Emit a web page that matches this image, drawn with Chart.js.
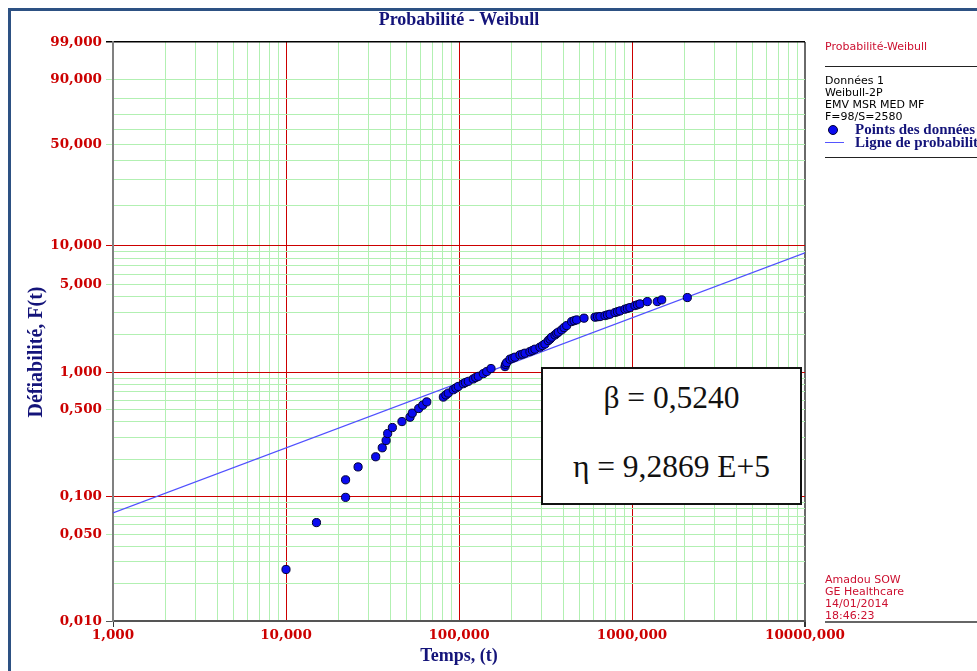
<!DOCTYPE html>
<html lang="fr">
<head>
<meta charset="utf-8">
<title>Probabilité - Weibull</title>
<script src="https://cdn.jsdelivr.net/npm/chart.js@4.4.1/dist/chart.umd.min.js"></script>
<style>
  html, body { margin: 0; padding: 0; background: #fff; overflow: hidden; }
  #page { position: relative; width: 977px; height: 671px; overflow: hidden; }
  #chart { position: absolute; left: 0; top: 0; }
  #frame { position: absolute; left: 8px; top: 8px; width: 1200px; height: 900px; border: 3px solid #2d5183; pointer-events: none; }
  .side { position: absolute; left: 825px; font: 11px 'DejaVu Sans', sans-serif; line-height: 12px; white-space: nowrap; }
  .red { color: #cc1030; }
  .rule { position: absolute; left: 825px; width: 152px; height: 1px; background: #222; }
  .leg { position: absolute; left: 825px; height: 12px; white-space: nowrap; font: bold 15px 'Liberation Serif', serif; color: #14147a; line-height: 12px; }
  .leg span.txt { position: absolute; left: 30px; top: 0; }
  .dot { position: absolute; left: 3px; top: 2px; width: 8px; height: 8px; border-radius: 50%; background: #0a0af0; border: 1px solid #000033; }
  .lg-line { position: absolute; left: 0; top: 6px; width: 19px; height: 1px; background: #5555ff; }
  #box { position: absolute; left: 541px; top: 367px; width: 261px; height: 138px; box-sizing: border-box; border: 2px solid #111; background: #fff; font: 31.5px 'Liberation Serif', serif; color: #111; }
  #box div { position: absolute; left: 0; width: 100%; text-align: center; line-height: 34px; }
</style>
</head>
<body>
<div id="page">
  <canvas id="chart" width="977" height="671"></canvas>

  <div class="side red" style="top:41px">Probabilité-Weibull</div>
  <div class="rule" style="top:66px"></div>
  <div class="side" style="top:75px">Données 1<br>Weibull-2P<br>EMV MSR MED MF<br>F=98/S=2580</div>
  <div class="leg" style="top:123px"><span class="dot"></span><span class="txt">Points des données</span></div>
  <div class="leg" style="top:136px"><span class="lg-line"></span><span class="txt">Ligne de probabilité</span></div>
  <div class="rule" style="top:157px"></div>

  <div class="side red" style="top:574px">Amadou SOW<br>GE Healthcare<br>14/01/2014<br>18:46:23</div>
  <div class="rule" style="top:621px; height:2px; background:#666"></div>

  <div id="box">
    <div style="top:12px">β = 0,5240</div>
    <div style="top:81px">η = 9,2869 E+5</div>
  </div>

  <div id="frame"></div>
</div>

<script>
'use strict';

/* ─── DONNÉES ────────────────────────────────────────────── */
// temps de défaillance (t) et F(t) en %
const failTimes = [
  10000, 15000, 22100, 22100, 26100, 33000, 36000, 37900, 38700, 41200,
  46800, 52100, 53700, 58500, 61700, 65100, 81200, 84000, 86700, 92700,
  96000, 99100, 105900, 109000, 113200, 121000, 125000, 129300, 138200, 144600,
  153100, 184500, 186000, 188700, 197200, 204000, 210700, 225300, 233000, 240800,
  257100, 266000, 274800, 293800, 304000, 314100, 328100, 336000, 343500, 358900,
  367000, 375100, 392300, 405000, 419400, 448000, 463000, 478700, 528000, 611200,
  632000, 653200, 698300, 722000, 746500, 797600, 825000, 852400, 910900, 942000,
  973300, 1040000, 1076000, 1112000, 1226000, 1400000, 1485000, 2088000
];
const failProb = [
  0.026, 0.062, 0.099, 0.137, 0.174, 0.210, 0.248, 0.284, 0.323, 0.361,
  0.403, 0.437, 0.471, 0.513, 0.546, 0.580, 0.634, 0.660, 0.683, 0.726,
  0.750, 0.772, 0.812, 0.830, 0.848, 0.886, 0.910, 0.930, 0.978, 1.015,
  1.073, 1.113, 1.160, 1.198, 1.276, 1.300, 1.324, 1.382, 1.400, 1.425,
  1.467, 1.500, 1.534, 1.591, 1.640, 1.690, 1.797, 1.850, 1.913, 1.995,
  2.050, 2.097, 2.188, 2.280, 2.368, 2.547, 2.590, 2.627, 2.710, 2.760,
  2.780, 2.790, 2.840, 2.880, 2.915, 3.004, 3.050, 3.096, 3.194, 3.240,
  3.289, 3.410, 3.460, 3.517, 3.668, 3.668, 3.785, 3.948
];

// ligne de probabilité (extrémités)
const lineTimes = [1000, 10000000];
const lineProb  = [0.0742, 8.81];

// grilles et graduations
const xGrid = [
  1e3, 2e3, 3e3, 4e3, 5e3, 6e3, 7e3, 8e3, 9e3,
  1e4, 2e4, 3e4, 4e4, 5e4, 6e4, 7e4, 8e4, 9e4,
  1e5, 2e5, 3e5, 4e5, 5e5, 6e5, 7e5, 8e5, 9e5,
  1e6, 2e6, 3e6, 4e6, 5e6, 6e6, 7e6, 8e6, 9e6, 1e7
];
const xLabelValues = [1e3, 1e4, 1e5, 1e6, 1e7];
const xLabelText   = ['1,000', '10,000', '100,000', '1000,000', '10000,000'];

const yGrid = [
  0.01, 0.02, 0.03, 0.04, 0.05, 0.06, 0.07, 0.08, 0.09,
  0.1, 0.2, 0.3, 0.4, 0.5, 0.6, 0.7, 0.8, 0.9,
  1, 2, 3, 4, 5, 6, 7, 8, 9,
  10, 20, 30, 40, 50, 60, 70, 80, 90, 99
];
const yLabelValues = [99, 90, 50, 10, 5, 1, 0.5, 0.1, 0.05, 0.01];
const yMajor = [10, 1, 0.1];

/* ─── COULEURS ───────────────────────────────────────────── */
const RED   = '#cc0000';
const GREEN = '#b2f0b2';
const NAVY  = '#14147a';

/* ─── ÉCHELLE WEIBULL (papier de probabilité) ───────────── */
const wb = p => Math.log(-Math.log(1 - p / 100));

class WeibullScale extends Chart.Scale {
  determineDataLimits() {
    this.min = this.options.min;
    this.max = this.options.max;
  }
  buildTicks() {
    return yGrid.map(v => ({ value: v }));
  }
  getLabelForValue(v) {
    return v.toFixed(3).replace('.', ',');
  }
  configure() {
    super.configure();
    this._wStart = wb(this.min);
    this._wRange = wb(this.max) - this._wStart;
  }
  getPixelForValue(v) {
    return this.getPixelForDecimal((wb(v) - this._wStart) / this._wRange);
  }
  getValueForPixel(px) {
    const w = this._wStart + this.getDecimalForPixel(px) * this._wRange;
    return 100 * (1 - Math.exp(-Math.exp(w)));
  }
}
WeibullScale.id = 'weibull';
WeibullScale.defaults = {};
Chart.register(WeibullScale);

/* ─── HELPERS ────────────────────────────────────────────── */
function xColor(v) {
  if (v === 1e3) return '#808080';
  if (v === 1e7) return '#6a6a6a';
  return xLabelValues.includes(v) ? RED : GREEN;
}
function yColor(v) {
  if (v === 99) return '#000';
  if (v === 0.01) return '#555';
  return yMajor.includes(v) ? RED : GREEN;
}

// titre vertical, un peu sous le centre comme dans l'original
const yTitlePlugin = {
  id: 'yTitle',
  afterDraw(chart) {
    const { ctx } = chart;
    ctx.save();
    ctx.translate(37, 352);
    ctx.rotate(-Math.PI / 2);
    ctx.font = 'bold 20px "Liberation Serif"';
    ctx.fillStyle = NAVY;
    ctx.textAlign = 'center';
    ctx.textBaseline = 'middle';
    ctx.fillText('Défiabilité, F(t)', 0, 0);
    ctx.restore();
  },
};

const tickFont = { family: 'DejaVu Serif', weight: 'bold', size: 13.5 };

const points  = failTimes.map((t, i) => ({ x: t, y: failProb[i] }));
const linePts = lineTimes.map((t, i) => ({ x: t, y: lineProb[i] }));

/* ─── CHART ──────────────────────────────────────────────── */
new Chart(document.getElementById('chart'), {
  type: 'scatter',
  data: {
    datasets: [
      {
        label: 'Points des données',
        data: points,
        backgroundColor: '#0a0af0',
        borderColor: '#000033',
        borderWidth: 1,
        pointRadius: 4.1,
      },
      {
        label: 'Ligne de probabilité',
        data: linePts,
        showLine: true,
        borderColor: '#5050ff',
        borderWidth: 1.2,
        pointRadius: 0,
      },
    ],
  },
  options: {
    responsive: false,
    animation: false,
    layout: { padding: { left: 0, top: 0, right: 172, bottom: 0 } },
    plugins: {
      legend: { display: false },
      tooltip: { enabled: false },
      title: {
        display: true,
        fullSize: false,
        text: 'Probabilité - Weibull',
        color: NAVY,
        font: { family: 'Liberation Serif', weight: 'bold', size: 18, lineHeight: 1.2 },
        padding: { top: 10, bottom: 10.4 },
      },
    },
    scales: {
      x: {
        type: 'logarithmic',
        min: 1e3,
        max: 1e7,
        afterBuildTicks: s => { s.ticks = xGrid.map(v => ({ value: v })); },
        afterFit: s => { s.height = 50; },
        grid: {
          color: c => xColor(c.tick.value),
          lineWidth: c => (c.tick.value === 1e7 ? 2 : 1),
          drawTicks: true,
          tickLength: 6,
          tickColor: c => (c.tick.value === 1e3 || c.tick.value === 1e7 ? '#333' : 'rgba(0,0,0,0)'),
        },
        border: { display: true, color: '#555', width: 2 },
        ticks: {
          autoSkip: false,
          maxRotation: 0,
          padding: 0,
          color: RED,
          font: tickFont,
          callback: v => {
            const i = xLabelValues.indexOf(v);
            return i < 0 ? '' : xLabelText[i];
          },
        },
        title: {
          display: true,
          text: 'Temps, (t)',
          color: NAVY,
          font: { family: 'Liberation Serif', weight: 'bold', size: 18, lineHeight: 1.2 },
          padding: { top: 0, bottom: 4 },
        },
      },
      y: {
        type: 'weibull',
        min: 0.01,
        max: 99,
        afterFit: s => { s.width = 113; },
        grid: {
          color: c => yColor(c.tick.value),
          lineWidth: c => (c.tick.value === 99 ? 1.5 : 1),
          drawTicks: true,
          tickLength: 7,
          tickColor: c => (yLabelValues.includes(c.tick.value) ? yColor(c.tick.value) : 'rgba(0,0,0,0)'),
        },
        border: { display: true, color: '#808080', width: 2 },
        ticks: {
          autoSkip: false,
          padding: 4,
          color: RED,
          font: tickFont,
          callback: v => (yLabelValues.includes(v) ? v.toFixed(3).replace('.', ',') : ''),
        },
      },
    },
  },
  plugins: [yTitlePlugin],
});
</script>
</body>
</html>
